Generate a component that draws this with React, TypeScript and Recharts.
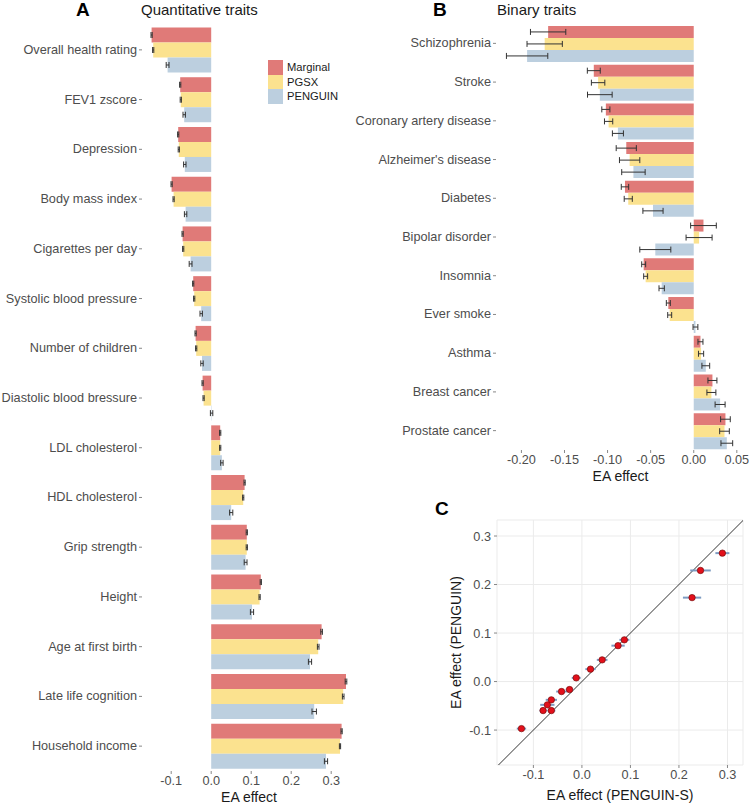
import React from 'react';
import {
  BarChart,
  Bar,
  XAxis,
  YAxis,
  ErrorBar,
  ScatterChart,
  Scatter,
  CartesianGrid,
  ReferenceLine,
} from 'recharts';

const FONT = '"Liberation Sans", Arial, Helvetica, sans-serif';
const RED = '#e07a78';
const YELLOW = '#fbe28f';
const BLUE = '#bccfdf';
const TICK_GREY = '#4d4d4d';

// panel A: quantitative traits
const quantTraits = [
  'Overall health rating',
  'FEV1 zscore',
  'Depression',
  'Body mass index',
  'Cigarettes per day',
  'Systolic blood pressure',
  'Number of children',
  'Diastolic blood bressure',
  'LDL cholesterol',
  'HDL cholesterol',
  'Grip strength',
  'Height',
  'Age at first birth',
  'Late life cognition',
  'Household income',
];
const quantMarginal = [-0.149, -0.0775, -0.0825, -0.099, -0.0715, -0.045, -0.039, -0.0215, 0.0225, 0.0835, 0.089, 0.124, 0.276, 0.337, 0.326];
const quantPgsx = [-0.145, -0.076, -0.081, -0.094, -0.07, -0.0425, -0.0375, -0.019, 0.0225, 0.08, 0.089, 0.121, 0.2675, 0.33, 0.322];
const quantPenguin = [-0.109, -0.0675, -0.066, -0.064, -0.0515, -0.025, -0.023, 0.001, 0.0267, 0.05, 0.086, 0.102, 0.247, 0.2575, 0.287];
const quantMarginalErr = [0.0015, 0.0015, 0.0015, 0.0015, 0.0015, 0.0015, 0.0015, 0.0015, 0.0015, 0.0015, 0.0015, 0.0015, 0.002, 0.002, 0.0015];
const quantPgsxErr = [0.0015, 0.0015, 0.0015, 0.0015, 0.0015, 0.0015, 0.0015, 0.0015, 0.0015, 0.0015, 0.0015, 0.0015, 0.002, 0.002, 0.0015];
const quantPenguinErr = [0.0035, 0.003, 0.003, 0.003, 0.0035, 0.003, 0.003, 0.003, 0.003, 0.004, 0.0035, 0.004, 0.004, 0.0055, 0.004];
const quantTicks = [-0.1, 0, 0.1, 0.2, 0.3];

// panel B: binary traits
const binaryTraits = [
  'Schizophrenia',
  'Stroke',
  'Coronary artery disease',
  "Alzheimer's disease",
  'Diabetes',
  'Bipolar disorder',
  'Insomnia',
  'Ever smoke',
  'Asthma',
  'Breast cancer',
  'Prostate cancer',
];
const binaryMarginal = [-0.169, -0.116, -0.102, -0.0783, -0.0798, 0.0113, -0.0581, -0.0295, 0.0078, 0.0217, 0.0368];
const binaryPgsx = [-0.173, -0.111, -0.0988, -0.0744, -0.076, 0.0062, -0.0558, -0.0279, 0.0085, 0.0205, 0.0357];
const binaryPenguin = [-0.1934, -0.109, -0.088, -0.07, -0.0473, -0.0446, -0.0372, 0.002, 0.014, 0.0306, 0.0384];
const binaryMarginalErr = [0.0205, 0.0075, 0.0047, 0.0117, 0.0043, 0.0149, 0.0023, 0.0023, 0.0029, 0.0052, 0.0056];
const binaryPgsxErr = [0.0205, 0.0078, 0.0048, 0.0118, 0.0047, 0.0151, 0.0023, 0.0023, 0.003, 0.0052, 0.0056];
const binaryPenguinErr = [0.024, 0.0143, 0.0064, 0.0136, 0.0117, 0.018, 0.0031, 0.0028, 0.0045, 0.0058, 0.0068];
const binaryTicks = [-0.2, -0.15, -0.1, -0.05, 0, 0.05];

// panel C: PENGUIN-S vs PENGUIN
const penguinS = [0.2895, 0.2444, 0.227, 0.0875, 0.0745, 0.0417, 0.0177, -0.0117, -0.0255, -0.042, -0.063, -0.0712, -0.08, -0.063, -0.1246];
const penguinY = [0.2647, 0.229, 0.173, 0.086, 0.074, 0.0447, 0.0256, 0.0076, -0.0165, -0.0206, -0.0377, -0.048, -0.0598, -0.0598, -0.097];
const penguinSErr = [0.0144, 0.0212, 0.0188, 0.0103, 0.0137, 0.011, 0.0106, 0.0092, 0.0079, 0.011, 0.0116, 0.0147, 0.0075, 0.0082, 0.0096];
const scatterTicks = [-0.1, 0, 0.1, 0.2, 0.3];

const legendNames = ['Marginal', 'PGSX', 'PENGUIN'];
const legendColors = [RED, YELLOW, BLUE];

const quantData = quantTraits.map((trait, i) => ({
  trait,
  marginal: quantMarginal[i],
  pgsx: quantPgsx[i],
  penguin: quantPenguin[i],
  marginalErr: quantMarginalErr[i],
  pgsxErr: quantPgsxErr[i],
  penguinErr: quantPenguinErr[i],
}));

const binaryData = binaryTraits.map((trait, i) => ({
  trait,
  marginal: binaryMarginal[i],
  pgsx: binaryPgsx[i],
  penguin: binaryPenguin[i],
  marginalErr: binaryMarginalErr[i],
  pgsxErr: binaryPgsxErr[i],
  penguinErr: binaryPenguinErr[i],
}));

const scatterData = penguinS.map((x, i) => ({ x, y: penguinY[i], err: penguinSErr[i] }));

const tickStyle = { fill: TICK_GREY, fontSize: 12.7, fontFamily: FONT };
const titleStyle = { fill: '#1a1a1a', fontSize: 14, fontFamily: FONT };

// plain svg text so long trait names never wrap
const CategoryTick = (props: any) => {
  const { x, y, payload } = props;
  return (
    <text x={x} y={y} textAnchor="end" dominantBaseline="central" fill={TICK_GREY} fontSize={12.7} fontFamily={FONT}>
      {payload.value}
    </text>
  );
};

const PanelTitle = ({ letter, title, lx, tx, y }: { letter: string; title: string; lx: number; tx: number; y: number }) => (
  <>
    <div style={{ position: 'absolute', left: lx, top: y - 11, fontSize: 19, fontWeight: 'bold', fontFamily: FONT, color: '#000', lineHeight: '22px' }}>
      {letter}
    </div>
    {title && (
      <div style={{ position: 'absolute', left: tx, top: y - 9, fontSize: 15, fontFamily: FONT, color: '#1a1a1a', lineHeight: '18px' }}>
        {title}
      </div>
    )}
  </>
);

const Legend = () => (
  <div style={{ position: 'absolute', left: 268, top: 60, fontFamily: FONT, fontSize: 11.2, color: '#1a1a1a' }}>
    {legendNames.map((name, i) => (
      <div key={name} style={{ display: 'flex', alignItems: 'center', height: 14.5 }}>
        <div style={{ width: 15, height: 14.5, background: legendColors[i], marginRight: 4 }} />
        <span>{name}</span>
      </div>
    ))}
  </div>
);

const TraitBars = () => (
  <>
    <Bar dataKey="marginal" fill={RED} isAnimationActive={false}>
      <ErrorBar dataKey="marginalErr" direction="x" width={3} stroke="#333" strokeWidth={1} />
    </Bar>
    <Bar dataKey="pgsx" fill={YELLOW} isAnimationActive={false}>
      <ErrorBar dataKey="pgsxErr" direction="x" width={3} stroke="#333" strokeWidth={1} />
    </Bar>
    <Bar dataKey="penguin" fill={BLUE} isAnimationActive={false}>
      <ErrorBar dataKey="penguinErr" direction="x" width={3} stroke="#333" strokeWidth={1} />
    </Bar>
  </>
);

export default function App() {
  return (
    <div style={{ position: 'absolute', left: 0, top: 0, width: 750, height: 806, background: '#fff', fontFamily: FONT }}>
      <PanelTitle letter="A" title="Quantitative traits" lx={76} tx={141} y={10} />
      <PanelTitle letter="B" title="Binary traits" lx={433} tx={497} y={10} />
      <PanelTitle letter="C" title="" lx={435} tx={0} y={509} />

      <div style={{ position: 'absolute', left: 0, top: 0 }}>
        <BarChart
          width={360}
          height={806}
          data={quantData}
          layout="vertical"
          margin={{ top: 25, right: 4, bottom: 0, left: 0 }}
          barCategoryGap="5%"
          barGap={0}
        >
          <XAxis
            type="number"
            domain={[-0.173, 0.362]}
            ticks={quantTicks}
            allowDataOverflow
            height={35}
            axisLine={false}
            tickLine={{ stroke: '#888' }}
            tickSize={3}
            tickMargin={2}
            tick={tickStyle}
            tickFormatter={(v: number) => v.toFixed(1)}
            label={{ value: 'EA effect', position: 'insideBottom', offset: 4, style: titleStyle }}
          />
          <YAxis
            type="category"
            dataKey="trait"
            width={142}
            interval={0}
            axisLine={false}
            tickLine={{ stroke: '#888' }}
            tickSize={3}
            tickMargin={2}
            tick={<CategoryTick />}
          />
          {TraitBars()}
        </BarChart>
      </div>

      <div style={{ position: 'absolute', left: 340, top: 0 }}>
        <BarChart
          width={410}
          height={485}
          data={binaryData}
          layout="vertical"
          margin={{ top: 24, right: 5, bottom: 0, left: 0 }}
          barCategoryGap="5%"
          barGap={0}
        >
          <XAxis
            type="number"
            domain={[-0.2295, 0.0595]}
            ticks={binaryTicks}
            allowDataOverflow
            height={35}
            axisLine={false}
            tickLine={{ stroke: '#888' }}
            tickSize={3}
            tickMargin={2}
            tick={tickStyle}
            tickFormatter={(v: number) => v.toFixed(2)}
            label={{ value: 'EA effect', position: 'insideBottom', offset: 4, style: titleStyle }}
          />
          <YAxis
            type="category"
            dataKey="trait"
            width={156}
            interval={0}
            axisLine={false}
            tickLine={{ stroke: '#888' }}
            tickSize={3}
            tickMargin={2}
            tick={<CategoryTick />}
          />
          {TraitBars()}
        </BarChart>
      </div>

      <Legend />

      <div style={{ position: 'absolute', left: 430, top: 505 }}>
        <ScatterChart width={320} height={301} margin={{ top: 15, right: 7, bottom: 0, left: 0 }}>
          <CartesianGrid stroke="#ebebeb" strokeWidth={1} />
          <XAxis
            type="number"
            dataKey="x"
            domain={[-0.175, 0.332]}
            ticks={scatterTicks}
            allowDataOverflow
            height={41}
            axisLine={false}
            tickLine={{ stroke: '#888' }}
            tickSize={3}
            tickMargin={2}
            tick={tickStyle}
            tickFormatter={(v: number) => v.toFixed(1)}
            label={{ value: 'EA effect (PENGUIN-S)', position: 'insideBottom', offset: 6, style: titleStyle }}
          />
          <YAxis
            type="number"
            dataKey="y"
            domain={[-0.172, 0.333]}
            ticks={scatterTicks}
            allowDataOverflow
            width={67}
            axisLine={false}
            tickLine={{ stroke: '#888' }}
            tickSize={3}
            tickMargin={3}
            tick={tickStyle}
            tickFormatter={(v: number) => v.toFixed(1)}
            label={{
              content: ({ viewBox }: any) => {
                const cx = viewBox.x + 26;
                const cy = viewBox.y + viewBox.height / 2;
                return (
                  <text
                    x={cx}
                    y={cy}
                    transform={`rotate(-90 ${cx} ${cy})`}
                    textAnchor="middle"
                    dominantBaseline="central"
                    style={titleStyle}
                    fill="#1a1a1a"
                  >
                    EA effect (PENGUIN)
                  </text>
                );
              },
            }}
          />
          <ReferenceLine
            segment={[{ x: -0.172, y: -0.172 }, { x: 0.332, y: 0.332 }]}
            stroke="#333"
            strokeWidth={1}
            ifOverflow="visible"
          />
          <Scatter
            data={scatterData}
            isAnimationActive={false}
            shape={(p: any) => (
              <circle cx={p.cx} cy={p.cy} r={3.2} fill="#e3101b" stroke="#7a0a0a" strokeWidth={0.7} />
            )}
          >
            <ErrorBar dataKey="err" direction="x" width={0} stroke="#7d9bc1" strokeWidth={2} />
          </Scatter>
        </ScatterChart>
      </div>
    </div>
  );
}
